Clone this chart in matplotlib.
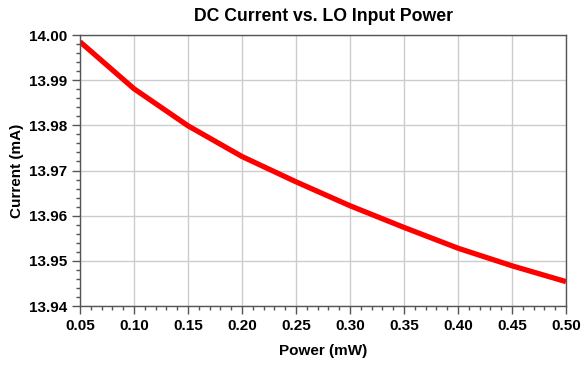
import matplotlib
matplotlib.use('Agg')
import matplotlib.pyplot as plt
from matplotlib.ticker import MultipleLocator, FormatStrFormatter

plt.rcParams['font.family'] = ['Liberation Sans', 'DejaVu Sans']

# LO input power (mW) and DC current (mA)
power = [0.05, 0.10, 0.15, 0.20, 0.25, 0.30, 0.35, 0.40, 0.45, 0.50]
current = [13.9985, 13.9881, 13.9799, 13.9731, 13.9675, 13.9622,
           13.9574, 13.9528, 13.9489, 13.9454]

fig = plt.figure(figsize=(5.81, 3.65), dpi=100)
ax = fig.add_axes([0.1377, 0.1616, 0.8365, 0.7425])

ax.plot(power, current, color='#ff0000', linewidth=3.8, solid_capstyle='butt')

ax.set_xlim(0.05, 0.50)
ax.set_ylim(13.94, 14.00)
ax.xaxis.set_major_locator(MultipleLocator(0.05))
ax.xaxis.set_minor_locator(MultipleLocator(0.01))
ax.yaxis.set_major_locator(MultipleLocator(0.01))
ax.yaxis.set_minor_locator(MultipleLocator(0.002))
ax.xaxis.set_major_formatter(FormatStrFormatter('%.2f'))
ax.yaxis.set_major_formatter(FormatStrFormatter('%.2f'))

ax.grid(True, which='major', color='#cccccc', linewidth=1)
ax.set_axisbelow(True)
for s in ax.spines.values():
    s.set_color('#555555')
    s.set_linewidth(1)

ax.tick_params(which='major', length=6, width=1, color='#555555',
               labelsize=11)
ax.tick_params(which='minor', length=3, width=1, color='#555555')
for lbl in ax.get_xticklabels() + ax.get_yticklabels():
    lbl.set_fontweight('bold')

ax.set_title('DC Current vs. LO Input Power', fontsize=12.7, fontweight='bold', pad=10)
ax.set_xlabel('Power (mW)', fontsize=11, fontweight='bold', labelpad=8)
ax.set_ylabel('Current (mA)', fontsize=11, fontweight='bold', labelpad=3)

fig.savefig('out.png', dpi=100)
